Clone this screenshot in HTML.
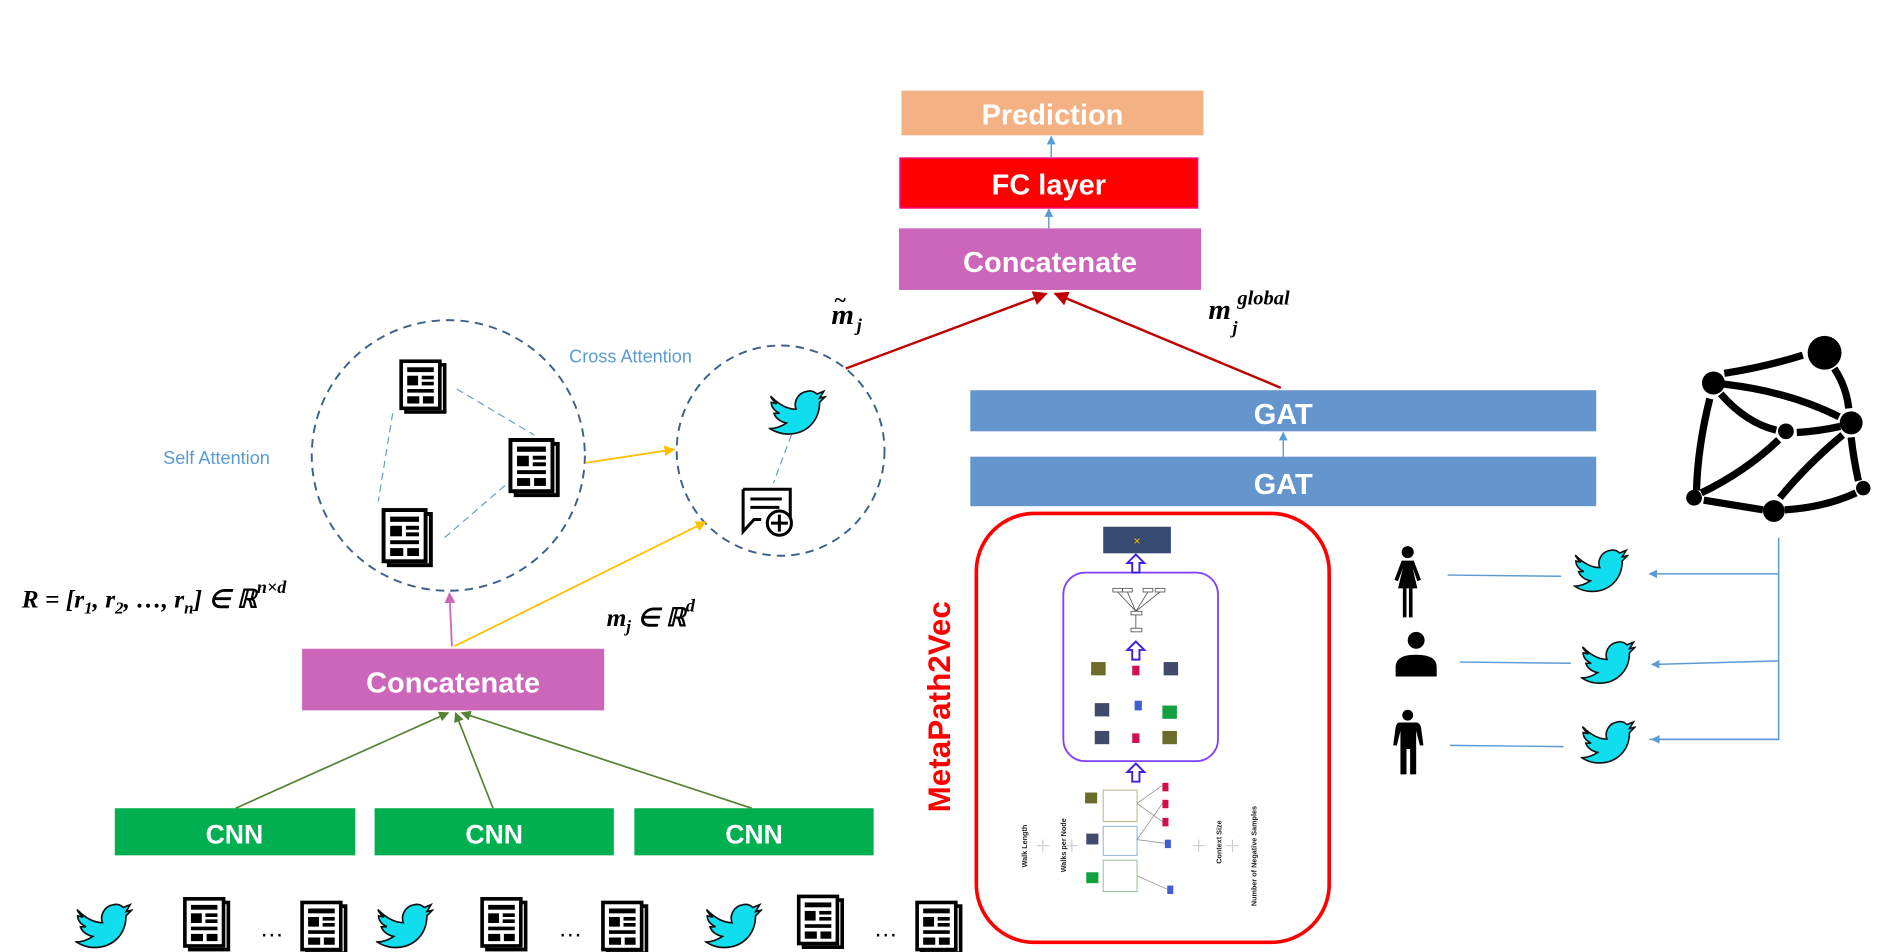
<!DOCTYPE html>
<html><head><meta charset="utf-8"><style>
html,body{margin:0;padding:0;background:#fff;}
svg{display:block;}
.bt{font-family:"Liberation Sans",sans-serif;font-weight:bold;fill:#fff;text-anchor:middle;}
.m{font-family:"Liberation Serif",serif;font-style:italic;font-weight:bold;fill:#000;}
</style></head><body>
<svg width="1885" height="952" viewBox="0 0 1560 788" preserveAspectRatio="none" xmlns="http://www.w3.org/2000/svg">
<defs>
<symbol id="bird" viewBox="0 0 42 36">
<path d="M2,7 C8,13 14,16 20,16 C18,11 21,4 28,3 C32,2 34,4 35,5 L40,3 L37,8 L41,7 L37,11 C37,24 28,34 14,34 C9,34 4,32 1,30 C6,30 10,28 13,26 C8,25 5,22 4,19 L8,19 C4,17 2,14 2,11 L6,12 C3,10 1,6 2,7 Z" fill="#10DDEE" stroke="#111" stroke-width="1.2"/>
</symbol>
<symbol id="doc" viewBox="0 0 40 46">
<rect x="6" y="5" width="32" height="39" fill="#fff" stroke="#000" stroke-width="3"/>
<rect x="2" y="2" width="32" height="39" fill="#fff" stroke="#000" stroke-width="3"/>
<rect x="7" y="7" width="22" height="4" fill="#000"/>
<rect x="7" y="14" width="9" height="8" fill="#000"/>
<rect x="19" y="14" width="10" height="3" fill="#000"/>
<rect x="19" y="19" width="10" height="3" fill="#000"/>
<rect x="7" y="25" width="22" height="3" fill="#000"/>
<rect x="7" y="31" width="10" height="6" fill="#000"/>
<rect x="20" y="31" width="9" height="6" fill="#000"/>
</symbol>
<marker id="ab" viewBox="0 0 10 10" refX="9" refY="5" markerWidth="6" markerHeight="6" orient="auto"><path d="M0,0 L10,5 L0,10Z" fill="#5B9BD5"/></marker>
<marker id="ar" viewBox="0 0 10 10" refX="9" refY="5" markerWidth="6" markerHeight="6" orient="auto"><path d="M0,0 L10,5 L0,10Z" fill="#C00000"/></marker>
<marker id="ay" viewBox="0 0 10 10" refX="9" refY="5" markerWidth="6" markerHeight="6" orient="auto"><path d="M0,0 L10,5 L0,10Z" fill="#FFC000"/></marker>
<marker id="ap" viewBox="0 0 10 10" refX="9" refY="5" markerWidth="6" markerHeight="6" orient="auto"><path d="M0,0 L10,5 L0,10Z" fill="#CC66BB"/></marker>
<marker id="ag" viewBox="0 0 10 10" refX="9" refY="5" markerWidth="6" markerHeight="6" orient="auto"><path d="M0,0 L10,5 L0,10Z" fill="#548235"/></marker>
</defs>

<rect x="746" y="75" width="250" height="37" fill="#F4B183"/>
<text x="871" y="103" class="bt" font-size="24">Prediction</text>
<rect x="745" y="131" width="246" height="41" fill="#FF0000" stroke="#F06" stroke-width="1.5"/>
<text x="868" y="161" class="bt" font-size="24">FC layer</text>
<rect x="744" y="189" width="250" height="51" fill="#CC66BB"/>
<text x="869" y="225" class="bt" font-size="24">Concatenate</text>
<line x1="870" y1="131" x2="870" y2="113" stroke="#5B9BD5" stroke-width="1.2" marker-end="url(#ab)"/>
<line x1="868" y1="189" x2="868" y2="173" stroke="#5B9BD5" stroke-width="1.2" marker-end="url(#ab)"/>

<line x1="700" y1="305" x2="866" y2="243" stroke="#C00000" stroke-width="2" marker-end="url(#ar)"/>
<line x1="1060" y1="321" x2="873" y2="243" stroke="#C00000" stroke-width="2" marker-end="url(#ar)"/>
<text x="688" y="268" class="m" font-size="24">m</text>
<text x="690" y="254" class="m" font-size="18">~</text>
<text x="709" y="274" class="m" font-size="15">j</text>
<text x="1000" y="264" class="m" font-size="24">m</text>
<text x="1020" y="276" class="m" font-size="15">j</text>
<text x="1024" y="252" class="m" font-size="17">global</text>

<rect x="803" y="323" width="518" height="34" fill="#6495CD"/>
<text x="1062" y="351" class="bt" font-size="24">GAT</text>
<rect x="803" y="378" width="518" height="41" fill="#6495CD"/>
<text x="1062" y="409" class="bt" font-size="24">GAT</text>
<line x1="1062" y1="378" x2="1062" y2="358" stroke="#5B9BD5" stroke-width="1.2" marker-end="url(#ab)"/>

<ellipse cx="371" cy="377" rx="113" ry="112" fill="none" stroke="#3E5F8A" stroke-width="1.6" stroke-dasharray="7,5"/>
<ellipse cx="646" cy="373" rx="86" ry="87" fill="none" stroke="#3E5F8A" stroke-width="1.6" stroke-dasharray="7,5"/>
<text x="135" y="384" font-family="Liberation Sans,sans-serif" font-size="15" fill="#5B9BD5">Self Attention</text>
<text x="471" y="300" font-family="Liberation Sans,sans-serif" font-size="15" fill="#5B9BD5">Cross Attention</text>
<g stroke="#6C9BD0" stroke-width="1" stroke-dasharray="6,4">
<line x1="325" y1="342" x2="313" y2="415"/>
<line x1="378" y1="322" x2="442" y2="360"/>
<line x1="368" y1="445" x2="420" y2="400"/>
<line x1="655" y1="360" x2="640" y2="400"/>
</g>
<use href="#doc" x="330" y="297" width="40" height="46"/>
<use href="#doc" x="418" y="362" width="48" height="50"/>
<use href="#doc" x="313" y="420" width="48" height="50"/>
<use href="#bird" x="636" y="320" width="48" height="42"/>
<g stroke="#000" stroke-width="2.5" fill="#fff">
<path d="M615,405 H654 V430 M615,405 V440 L624,430 H630"/>
<line x1="621" y1="413" x2="647" y2="413"/><line x1="621" y1="420" x2="645" y2="420"/>
<circle cx="645" cy="433" r="10"/>
<line x1="645" y1="426" x2="645" y2="440"/><line x1="638" y1="433" x2="652" y2="433"/>
</g>
<line x1="485" y1="383" x2="558" y2="372" stroke="#FFC000" stroke-width="1.5" marker-end="url(#ay)"/>
<line x1="376" y1="535" x2="584" y2="432" stroke="#FFC000" stroke-width="1.5" marker-end="url(#ay)"/>
<line x1="374" y1="535" x2="372" y2="491" stroke="#CC66BB" stroke-width="1.5" marker-end="url(#ap)"/>

<text x="18" y="503" class="m" font-size="21">R = [r<tspan font-size="14" dy="5">1</tspan><tspan dy="-5">, r</tspan><tspan font-size="14" dy="5">2</tspan><tspan dy="-5">, …, r</tspan><tspan font-size="14" dy="5">n</tspan><tspan dy="-5">] ∈ ℝ</tspan><tspan font-size="15" dy="-12">n×d</tspan></text>
<text x="502" y="518" class="m" font-size="21">m<tspan font-size="14" dy="5">j</tspan><tspan dy="-5"> ∈ ℝ</tspan><tspan font-size="15" dy="-12">d</tspan></text>

<rect x="250" y="537" width="250" height="51" fill="#CC66BB"/>
<text x="375" y="573" class="bt" font-size="24">Concatenate</text>

<g fill="#00B050">
<rect x="95" y="669" width="199" height="39"/><rect x="310" y="669" width="198" height="39"/><rect x="525" y="669" width="198" height="39"/>
</g>
<text x="194" y="698" class="bt" font-size="22">CNN</text>
<text x="409" y="698" class="bt" font-size="22">CNN</text>
<text x="624" y="698" class="bt" font-size="22">CNN</text>
<g stroke="#548235" stroke-width="1.4">
<line x1="195" y1="669" x2="371" y2="590" marker-end="url(#ag)"/>
<line x1="408" y1="669" x2="377" y2="590" marker-end="url(#ag)"/>
<line x1="622" y1="669" x2="382" y2="590" marker-end="url(#ag)"/>
</g>

<use href="#bird" x="62" y="745" width="48" height="42"/>
<use href="#bird" x="311" y="745" width="48" height="42"/>
<use href="#bird" x="583" y="745" width="48" height="42"/>
<use href="#doc" x="150" y="742" width="42" height="46"/>
<use href="#doc" x="247" y="745" width="42" height="46"/>
<use href="#doc" x="396" y="742" width="42" height="46"/>
<use href="#doc" x="496" y="745" width="42" height="46"/>
<use href="#doc" x="658" y="740" width="42" height="46"/>
<use href="#doc" x="756" y="745" width="42" height="46"/>
<g font-family="Liberation Sans,sans-serif" font-size="20" fill="#000">
<text x="215" y="775">…</text><text x="462" y="775">…</text><text x="723" y="775">…</text>
</g>

<text transform="translate(786,585) rotate(-90)" text-anchor="middle" font-family="Liberation Sans,sans-serif" font-weight="bold" font-size="26" fill="#FF0000">MetaPath2Vec</text>
<rect x="808" y="425" width="292" height="355" rx="48" fill="none" stroke="#FF0000" stroke-width="3"/>
<rect x="913" y="436" width="56" height="22" fill="#374A72"/>
<text x="941" y="451" font-family="Liberation Sans,sans-serif" font-size="10" fill="#FFC000" text-anchor="middle">×</text>
<rect x="880" y="474" width="128" height="156" rx="18" fill="none" stroke="#7F3FFF" stroke-width="1.5"/>
<g fill="none" stroke="#4020E0" stroke-width="1.6">
<path d="M937,474 V466 H933 L940,459 L947,466 H943 V474 Z"/>
<path d="M937,546 V538 H933 L940,531 L947,538 H943 V546 Z"/>
<path d="M937,647 V639 H933 L940,632 L947,639 H943 V647 Z"/>
</g>
<g stroke="#555" stroke-width="0.7" fill="none">
<rect x="921" y="487" width="8" height="3"/><rect x="929" y="487" width="8" height="3"/><rect x="946" y="487" width="8" height="3"/><rect x="956" y="487" width="8" height="3"/>
<rect x="936" y="506" width="9" height="3"/><rect x="936" y="520" width="9" height="3"/>
<path d="M940,520 V509 M940,506 L925,490 M940,506 L933,490 M940,506 L950,490 M940,506 L960,490"/>
</g>
<g>
<rect x="903" y="548" width="12" height="11" fill="#6B6B2A"/><rect x="937" y="551" width="6" height="8" fill="#D0104C"/><rect x="963" y="548" width="12" height="11" fill="#404A6A"/>
<rect x="906" y="582" width="12" height="11" fill="#404A6A"/><rect x="939" y="580" width="6" height="8" fill="#3F5FD0"/><rect x="962" y="584" width="12" height="11" fill="#10A040"/>
<rect x="906" y="605" width="12" height="11" fill="#404A6A"/><rect x="937" y="607" width="6" height="8" fill="#D0104C"/><rect x="962" y="605" width="12" height="11" fill="#6B6B2A"/>
<rect x="898" y="656" width="10" height="9" fill="#6B6B2A"/><rect x="899" y="690" width="10" height="9" fill="#404A6A"/><rect x="899" y="722" width="10" height="9" fill="#10A040"/>
<rect x="913" y="654" width="28" height="26" fill="none" stroke="#BBB080" stroke-width="0.8"/>
<rect x="913" y="684" width="28" height="24" fill="none" stroke="#90B0D0" stroke-width="0.8"/>
<rect x="913" y="712" width="28" height="26" fill="none" stroke="#90C090" stroke-width="0.8"/>
<g fill="#D0104C"><rect x="962" y="648" width="5" height="7"/><rect x="962" y="662" width="5" height="7"/><rect x="962" y="677" width="5" height="7"/></g>
<g fill="#3F5FD0"><rect x="964" y="695" width="5" height="7"/><rect x="966" y="733" width="5" height="7"/></g>
<g stroke="#888" stroke-width="0.6"><line x1="941" y1="665" x2="962" y2="650"/><line x1="941" y1="665" x2="962" y2="680"/><line x1="941" y1="695" x2="962" y2="665"/><line x1="941" y1="695" x2="964" y2="698"/><line x1="941" y1="725" x2="966" y2="736"/></g>
</g>
<g font-family="Liberation Sans,sans-serif" font-size="6" fill="#222" font-weight="bold">
<text transform="translate(850,718) rotate(-90)">Walk Length</text>
<text transform="translate(882,722) rotate(-90)">Walks per Node</text>
<text transform="translate(1011,715) rotate(-90)">Context Size</text>
<text transform="translate(1040,750) rotate(-90)">Number of Negative Samples</text>
</g>
<g fill="none" stroke="#ccc" stroke-width="1"><path d="M858,700 h10 M863,695 v10"/><path d="M882,700 h10 M887,695 v10"/><path d="M987,700 h10 M992,695 v10"/><path d="M1015,700 h10 M1020,695 v10"/></g>

<g fill="#000">
<circle cx="1165" cy="457" r="5"/>
<path d="M1160,464 H1170 L1176,480 L1173,481 L1169,470 L1173,487 H1157 L1161,470 L1157,481 L1154,480 Z"/>
<rect x="1161" y="487" width="3" height="24"/><rect x="1166" y="487" width="3" height="24"/>
<circle cx="1172" cy="530" r="7"/>
<path d="M1155,560 V552 Q1155,542 1172,542 Q1189,542 1189,552 V560 Z"/>
<circle cx="1165" cy="592" r="4.5"/>
<path d="M1158,598 H1172 Q1175,598 1176,602 L1178,617 H1175 L1172,605 V641 H1167 V620 H1164 V641 H1159 V605 L1156,617 H1153 L1155,602 Q1156,598 1158,598 Z"/>
</g>
<g stroke="#5B9BD5" stroke-width="1.2" fill="none">
<line x1="1198" y1="476" x2="1292" y2="477"/>
<line x1="1208" y1="548" x2="1300" y2="549"/>
<line x1="1200" y1="617" x2="1294" y2="618"/>
<path d="M1472,445 V612 H1365"/>
<line x1="1472" y1="475" x2="1365" y2="475" marker-end="url(#ab)"/>
<line x1="1472" y1="547" x2="1367" y2="550" marker-end="url(#ab)"/>
<line x1="1472" y1="612" x2="1367" y2="612" marker-end="url(#ab)"/>
</g>
<use href="#bird" x="1302" y="452" width="46" height="40"/>
<use href="#bird" x="1308" y="528" width="46" height="40"/>
<use href="#bird" x="1308" y="594" width="46" height="40"/>

<g stroke="#000" stroke-width="6" fill="none" stroke-linecap="butt">
<path d="M1427,309 Q1460,304 1492,294"/>
<path d="M1427,318 Q1480,324 1522,345"/>
<path d="M1415,330 Q1405,370 1404,406"/>
<path d="M1424,326 Q1445,350 1470,356"/>
<path d="M1487,358 Q1505,357 1523,353"/>
<path d="M1518,305 Q1528,320 1530,338"/>
<path d="M1532,362 Q1534,380 1538,398"/>
<path d="M1525,360 Q1495,385 1473,412"/>
<path d="M1408,408 Q1445,390 1472,364"/>
<path d="M1410,414 L1459,422"/>
<path d="M1477,422 Q1510,420 1536,408"/>
</g>
<g fill="#000">
<circle cx="1510" cy="292" r="14"/><circle cx="1418" cy="317" r="9.5"/><circle cx="1478" cy="357" r="6.5"/>
<circle cx="1532" cy="350" r="9.5"/><circle cx="1402" cy="412" r="6.5"/><circle cx="1468" cy="423" r="9"/><circle cx="1542" cy="404" r="6"/>
</g>
</svg>
</body></html>
